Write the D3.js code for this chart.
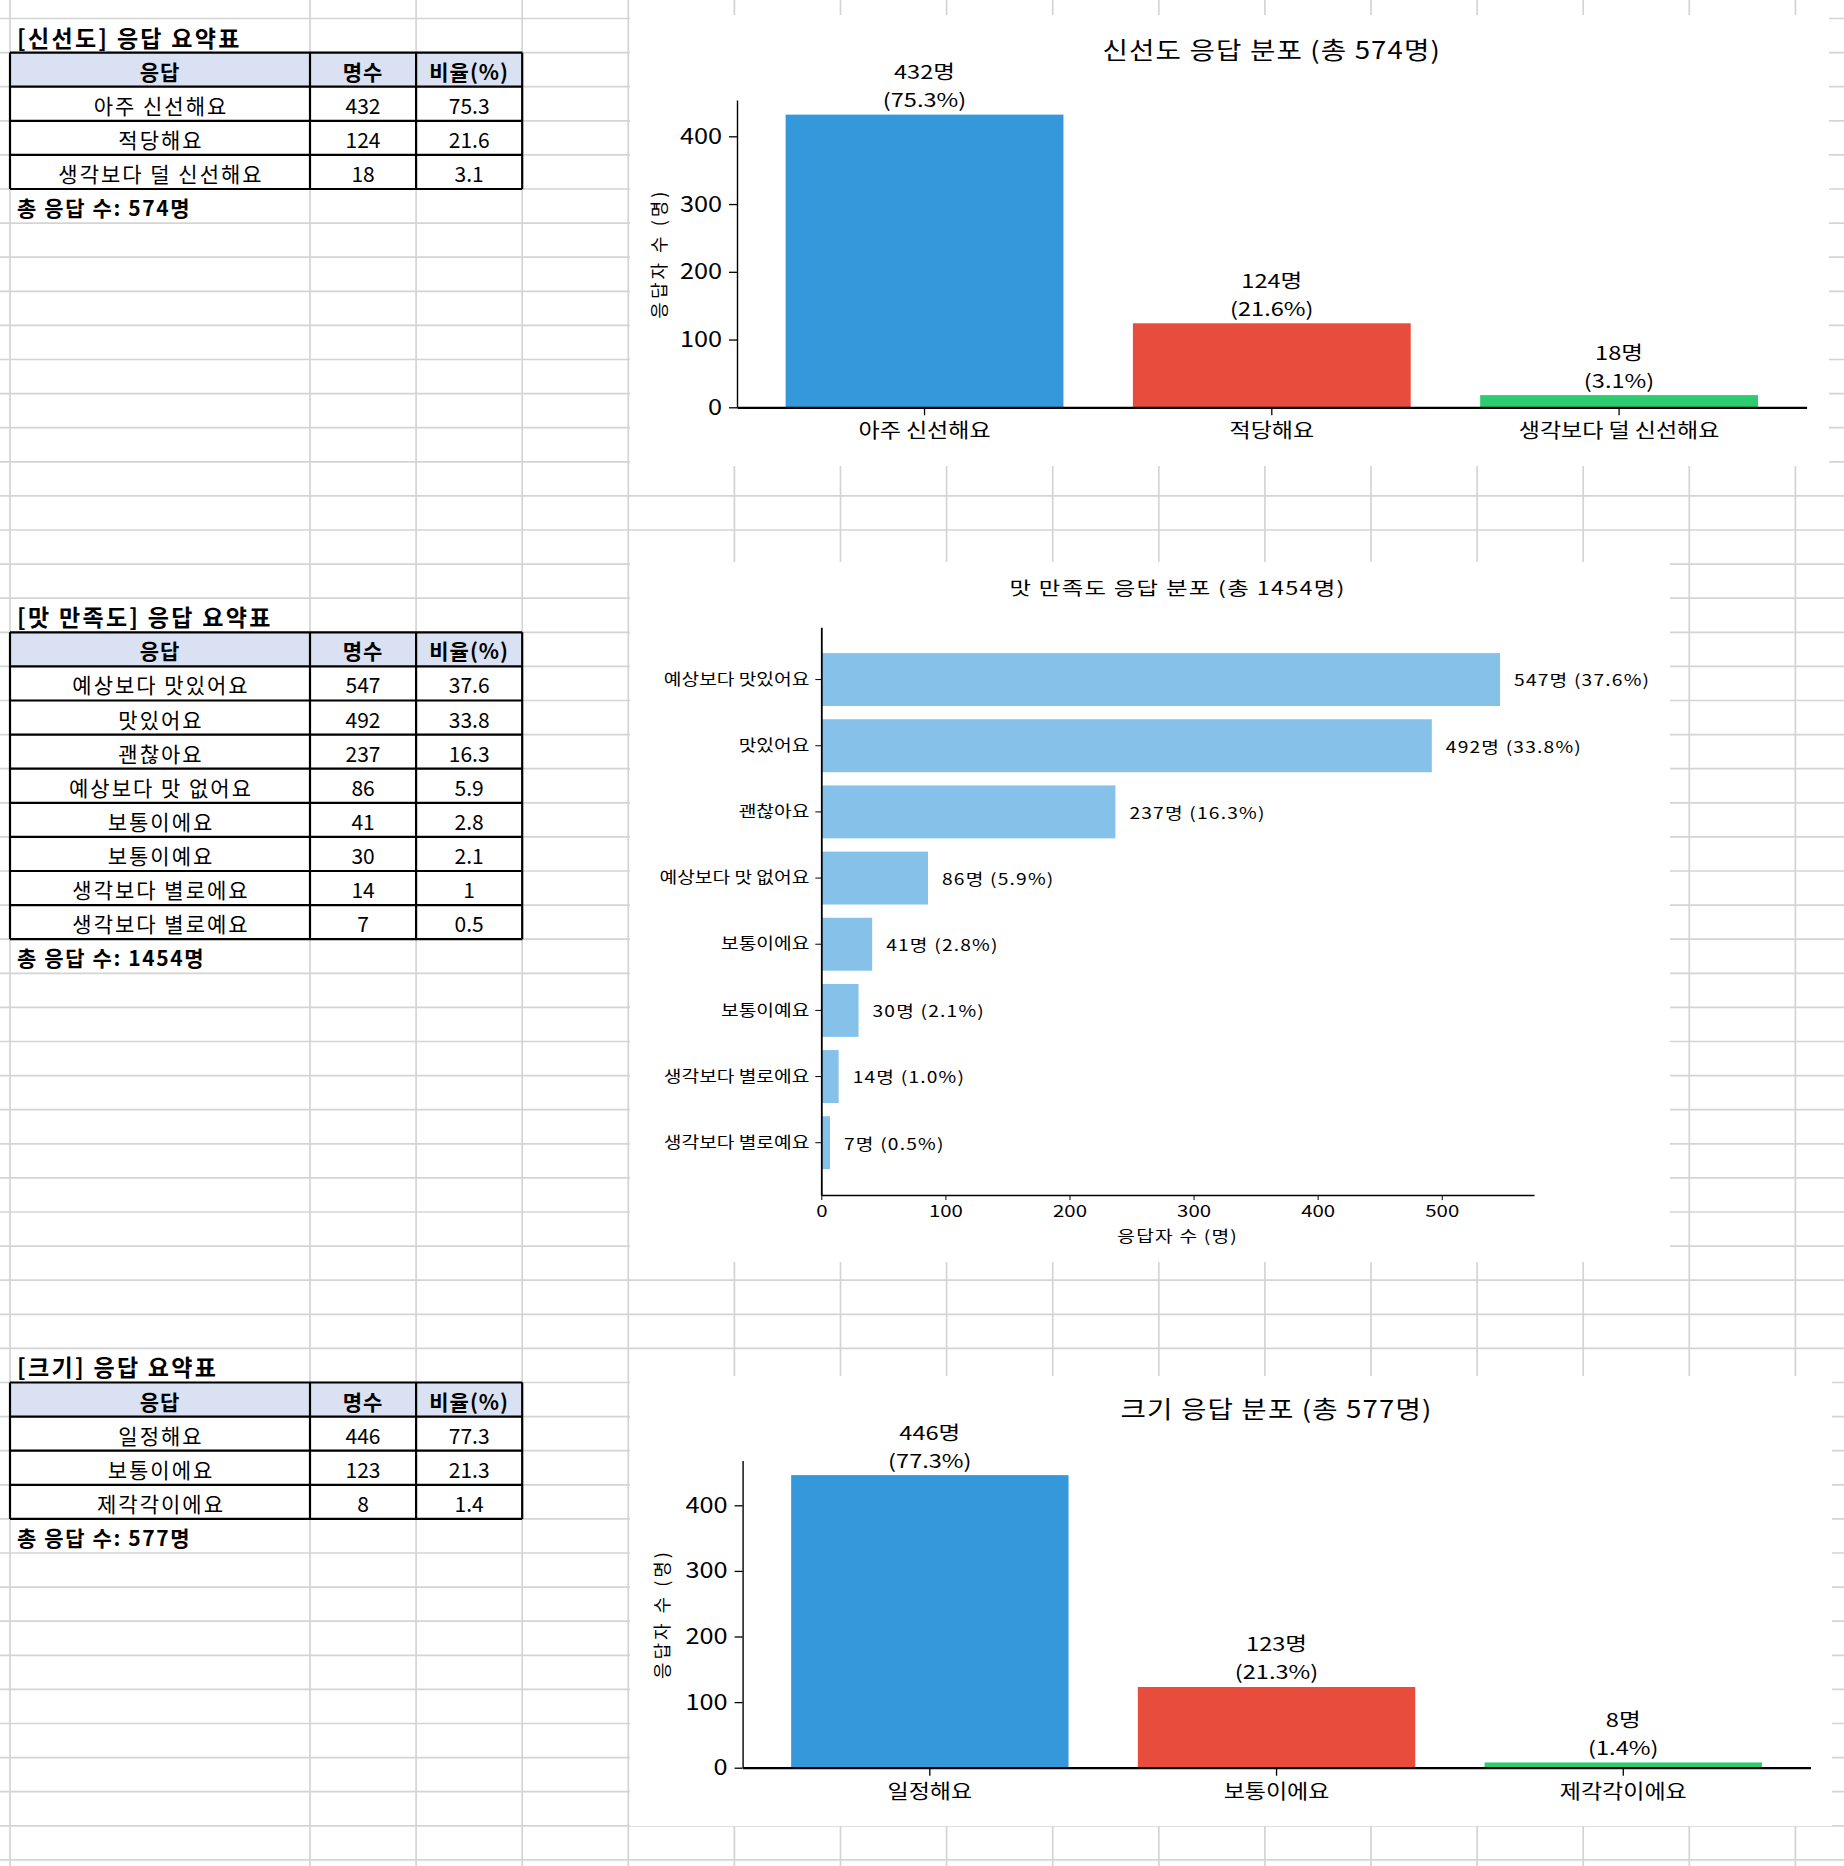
<!DOCTYPE html>
<html>
<head>
<meta charset="utf-8">
<script src="https://cdn.jsdelivr.net/npm/d3@7"></script>
<style>
  body { margin: 0; background: #fff; }
  svg { display: block; }
  text { font-family: "Noto Sans CJK KR", "Noto Sans", sans-serif; fill: #000; }
</style>
</head>
<body>
<div class="sheet"></div>
<script>
const W = 1844, H = 1866;

// ---- data ----
const freshCats = ["아주 신선해요", "적당해요", "생각보다 덜 신선해요"];
const freshCounts = [432, 124, 18];
const freshPcts = [75.3, 21.6, 3.1];

const tasteCats = ["예상보다 맛있어요", "맛있어요", "괜찮아요", "예상보다 맛 없어요",
                   "보통이에요", "보통이예요", "생각보다 별로에요", "생각보다 별로예요"];
const tasteCounts = [547, 492, 237, 86, 41, 30, 14, 7];
const tastePcts = [37.6, 33.8, 16.3, 5.9, 2.8, 2.1, 1.0, 0.5];

const sizeCats = ["일정해요", "보통이에요", "제각각이에요"];
const sizeCounts = [446, 123, 8];
const sizePcts = [77.3, 21.3, 1.4];

const tableHeader = ["응답", "명수", "비율(%)"];
const countTicks = [0, 100, 200, 300, 400, 500];
const barColors = ["#3498db", "#e74c3c", "#2ecc71"];
const hbarColor = "#85c1e9";

const svg = d3.select(".sheet").append("svg")
  .attr("width", W).attr("height", H);

// ---- spreadsheet grid ----
const rowY = k => 18.5 + 34.1 * k;
const colX = [10, 310];
for (let k = 1; k <= 14; k++) colX.push(310 + 106.1 * k);

const grid = svg.append("g").attr("stroke", "#d4d4d4").attr("stroke-width", 1.7);
d3.range(-1, 56).forEach(k => {
  grid.append("line").attr("x1", 0).attr("x2", W).attr("y1", rowY(k)).attr("y2", rowY(k));
});
colX.forEach(x => {
  grid.append("line").attr("x1", x).attr("x2", x).attr("y1", 0).attr("y2", H);
});

// ---- summary tables ----
function drawTable(row0, name, cats, counts, pcts) {
  const g = svg.append("g");
  const total = d3.sum(counts);
  const cols = [colX[0], colX[1], colX[2], colX[3]];
  const cx = i => (cols[i] + cols[i + 1]) / 2;
  const mid = k => (rowY(k) + rowY(k + 1)) / 2;

  g.append("text")
    .attr("x", 17).attr("y", mid(row0) + 1)
    .attr("dominant-baseline", "central")
    .attr("font-size", 23).attr("font-weight", "bold").attr("letter-spacing", 2.3)
    .text(`[${name}] 응답 요약표`);

  g.append("rect")
    .attr("x", cols[0]).attr("y", rowY(row0 + 1))
    .attr("width", cols[3] - cols[0]).attr("height", rowY(row0 + 2) - rowY(row0 + 1))
    .attr("fill", "#d9e1f2");

  tableHeader.forEach((h, i) => {
    g.append("text")
      .attr("x", cx(i)).attr("y", mid(row0 + 1) + 1)
      .attr("text-anchor", "middle").attr("dominant-baseline", "central")
      .attr("font-size", 21).attr("font-weight", "bold").attr("letter-spacing", 1)
      .text(h);
  });

  cats.forEach((c, r) => {
    const vals = [c, counts[r], String(pcts[r])];
    vals.forEach((v, i) => {
      g.append("text")
        .attr("x", cx(i) + (i === 0 ? 1 : 0)).attr("y", mid(row0 + 2 + r) + 1)
        .attr("text-anchor", "middle").attr("dominant-baseline", "central")
        .attr("font-size", 21).attr("letter-spacing", i === 0 ? 2 : 0)
        .text(v);
    });
  });

  // borders
  const b = g.append("g").attr("stroke", "#000").attr("stroke-width", 2.2);
  const lastRow = row0 + 2 + cats.length;
  d3.range(row0 + 1, lastRow + 1).forEach(k => {
    b.append("line").attr("x1", cols[0]).attr("x2", cols[3]).attr("y1", rowY(k)).attr("y2", rowY(k));
  });
  cols.forEach(x => {
    b.append("line").attr("x1", x).attr("x2", x).attr("y1", rowY(row0 + 1)).attr("y2", rowY(lastRow));
  });

  g.append("text")
    .attr("x", 17).attr("y", mid(lastRow) + 1)
    .attr("dominant-baseline", "central")
    .attr("font-size", 21).attr("font-weight", "bold").attr("letter-spacing", 1.6)
    .text(`총 응답 수: ${total}명`);
}

drawTable(0, "신선도", freshCats, freshCounts, freshPcts);
drawTable(17, "맛 만족도", tasteCats, tasteCounts, tastePcts);
drawTable(39, "크기", sizeCats, sizeCounts, sizePcts);

// stretch text horizontally (the chart pictures are stretched in the sheet)
function stretch(sel, sx) {
  sel.each(function() {
    const t = d3.select(this);
    const x = +t.attr("x") || 0;
    t.attr("x", x / sx).attr("transform", `scale(${sx},1)`);
  });
}

// ---- vertical bar charts ----
function barChart(o) {
  const g = svg.append("g");
  g.append("rect").attr("x", o.box[0]).attr("y", o.box[1])
    .attr("width", o.box[2] - o.box[0]).attr("height", o.box[3] - o.box[1])
    .attr("fill", "#fff");

  const x = d3.scaleBand().domain(o.cats).range([o.left, o.right])
    .paddingInner(0.2).paddingOuter(0.14);
  const y = d3.scaleLinear().domain([0, d3.max(o.counts) * 1.05]).range([o.bottom, o.top]);
  const total = d3.sum(o.counts);

  g.selectAll(".bar").data(o.cats).enter().append("rect")
    .attr("x", d => x(d)).attr("width", x.bandwidth())
    .attr("y", (d, i) => y(o.counts[i]))
    .attr("height", (d, i) => y(0) - y(o.counts[i]))
    .attr("fill", (d, i) => barColors[i]);

  const yAxis = g.append("g").attr("transform", `translate(${o.left},0)`)
    .call(d3.axisLeft(y).tickValues(countTicks.filter(t => t < y.domain()[1]))
      .tickSize(8).tickSizeOuter(0).tickPadding(7));
  yAxis.select(".domain").attr("stroke-width", 1.4);
  yAxis.selectAll(".tick line").attr("stroke-width", 1.3);
  yAxis.selectAll("text").attr("font-size", 22).attr("font-family", null);
  stretch(yAxis.selectAll("text"), o.sx);

  const xAxis = g.append("g").attr("transform", `translate(0,${o.bottom})`)
    .call(d3.axisBottom(x).tickSize(8).tickSizeOuter(0).tickPadding(9));
  xAxis.select(".domain").attr("stroke-width", 2.2);
  xAxis.selectAll(".tick line").attr("stroke-width", 1.3);
  xAxis.selectAll("text").attr("font-size", 20).attr("font-family", null);
  stretch(xAxis.selectAll("text"), o.sx);
  g.selectAll(".domain, .tick line").attr("stroke", "#000");
  g.selectAll(".tick text").attr("fill", "#222");

  // two-line value label: count, then percentage
  const lab = g.append("g").attr("font-size", 19).attr("text-anchor", "middle")
    .attr("dominant-baseline", "central").attr("fill", "#222");
  o.cats.forEach((c, i) => {
    const cx = x(c) + x.bandwidth() / 2;
    const top = y(o.counts[i]);
    lab.append("text").attr("x", cx).attr("y", top - 44).text(`${o.counts[i]}명`);
    lab.append("text").attr("x", cx).attr("y", top - 16).text(`(${o.pcts[i].toFixed(1)}%)`);
  });
  stretch(lab.selectAll("text"), o.sx * 1.08);

  const title = g.append("text")
    .attr("x", (o.left + o.right) / 2).attr("y", o.titleY)
    .attr("text-anchor", "middle").attr("dominant-baseline", "central")
    .attr("font-size", 24).attr("letter-spacing", 1).attr("fill", "#222")
    .text(`${o.name} 응답 분포 (총 ${total}명)`);
  stretch(title, o.sx);

  g.append("text")
    .attr("transform", `translate(${o.ylabelX},${(o.top + o.bottom) / 2}) rotate(-90)`)
    .attr("text-anchor", "middle").attr("dominant-baseline", "central")
    .attr("font-size", 18).attr("letter-spacing", 3).attr("fill", "#222")
    .text("응답자 수 (명)");
}

barChart({
  name: "신선도", cats: freshCats, counts: freshCounts, pcts: freshPcts,
  box: [630, 15, 1829, 466], left: 737, right: 1806.6, top: 100, bottom: 407.3,
  titleY: 48, ylabelX: 658, sx: 1.15
});
barChart({
  name: "크기", cats: sizeCats, counts: sizeCounts, pcts: sizePcts,
  box: [630, 1376, 1832, 1826], left: 742.6, right: 1810.5, top: 1460.5, bottom: 1767.7,
  titleY: 1407, ylabelX: 661, sx: 1.15
});

// ---- horizontal bar chart (taste) ----
(function() {
  const box = [630, 562, 1670, 1262];
  const left = 821.3, right = 1534, top = 627.3, bottom = 1195, sx = 1.2;
  const g = svg.append("g");
  g.append("rect").attr("x", box[0]).attr("y", box[1])
    .attr("width", box[2] - box[0]).attr("height", box[3] - box[1]).attr("fill", "#fff");

  const keys = tasteCats.map((c, i) => i);
  const y = d3.scaleBand().domain(keys).range([top, bottom])
    .paddingInner(0.2).paddingOuter(0.39);
  const x = d3.scaleLinear().domain([0, d3.max(tasteCounts) * 1.05]).range([left, right]);
  const total = d3.sum(tasteCounts);

  g.selectAll(".hbar").data(keys).enter().append("rect")
    .attr("x", x(0)).attr("y", d => y(d))
    .attr("width", d => x(tasteCounts[d]) - x(0)).attr("height", y.bandwidth())
    .attr("fill", hbarColor);

  const yAxis = g.append("g").attr("transform", `translate(${left},0)`)
    .call(d3.axisLeft(y).tickFormat(d => tasteCats[d]).tickSize(6).tickSizeOuter(0).tickPadding(6));
  yAxis.select(".domain").attr("stroke-width", 1.8);
  yAxis.selectAll("text").attr("font-size", 16).attr("font-family", null);
  stretch(yAxis.selectAll("text"), sx);

  const xAxis = g.append("g").attr("transform", `translate(0,${bottom})`)
    .call(d3.axisBottom(x).tickValues(countTicks).tickSize(5).tickSizeOuter(0).tickPadding(5));
  xAxis.select(".domain").attr("stroke-width", 1.4);
  xAxis.selectAll("text").attr("font-size", 17).attr("font-family", null);
  stretch(xAxis.selectAll("text"), sx);
  g.selectAll(".domain, .tick line").attr("stroke", "#000");
  g.selectAll(".tick text").attr("fill", "#222");

  const lab = g.append("g").attr("font-size", 16).attr("letter-spacing", 1)
    .attr("dominant-baseline", "central").attr("fill", "#222");
  keys.forEach(i => {
    lab.append("text").attr("x", x(tasteCounts[i]) + 14).attr("y", y(i) + y.bandwidth() / 2)
      .text(`${tasteCounts[i]}명 (${tastePcts[i].toFixed(1)}%)`);
  });
  stretch(lab.selectAll("text"), sx);

  const title = g.append("text").attr("x", (left + right) / 2).attr("y", 587)
    .attr("text-anchor", "middle").attr("dominant-baseline", "central")
    .attr("font-size", 18).attr("letter-spacing", 1).attr("fill", "#222")
    .text(`맛 만족도 응답 분포 (총 ${total}명)`);
  stretch(title, 1.3);

  const xl = g.append("text").attr("x", (left + right) / 2).attr("y", 1235)
    .attr("text-anchor", "middle").attr("dominant-baseline", "central")
    .attr("font-size", 16).attr("letter-spacing", 1).attr("fill", "#222")
    .text("응답자 수 (명)");
  stretch(xl, sx);
})();
</script>
</body>
</html>
